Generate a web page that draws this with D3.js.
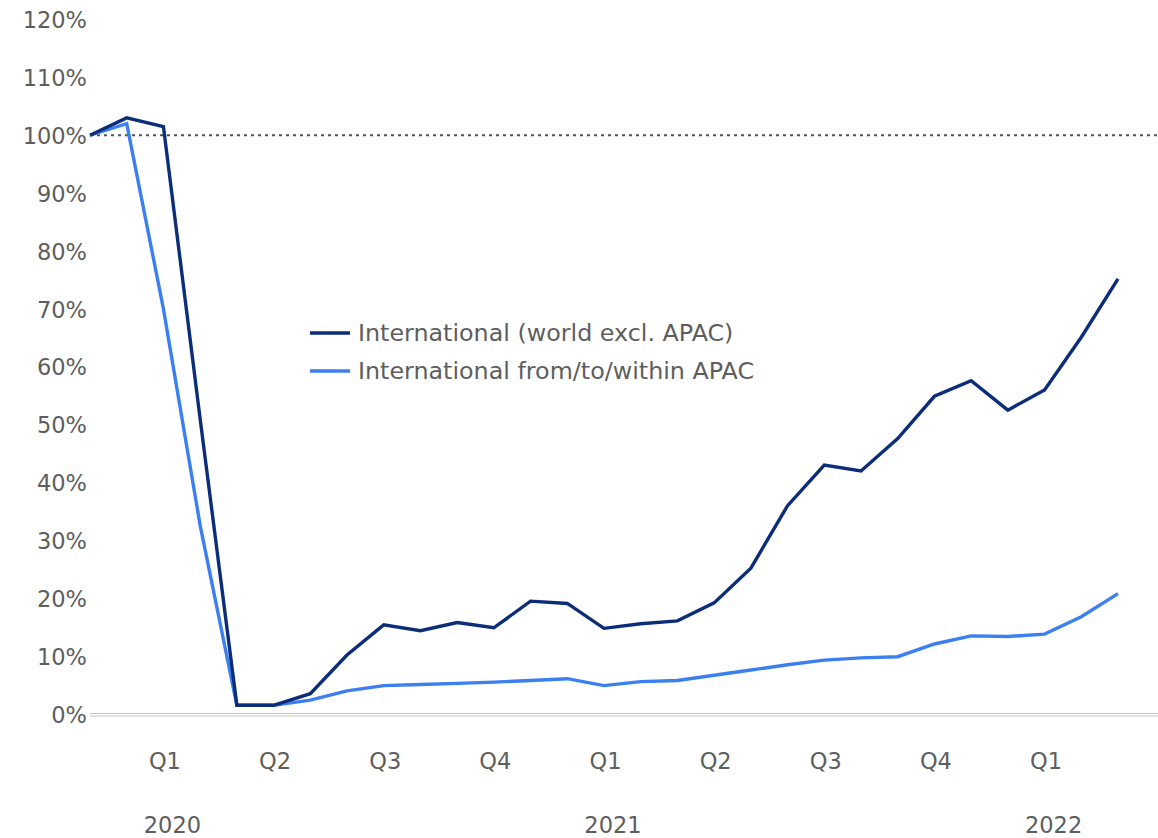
<!DOCTYPE html>
<html>
<head>
<meta charset="utf-8">
<script src="https://cdn.jsdelivr.net/npm/d3@7"></script>
<style>
  html, body { margin: 0; padding: 0; background: #fff; }
  svg { display: block; font-family: "DejaVu Sans", sans-serif; }
</style>
</head>
<body>
<svg id="chart" width="1158" height="838"></svg>
<script>
// Monthly index points (relative to baseline = 100%)
const months = d3.range(29);
const seriesWorld = [100, 103, 101.5, 51, 1.5, 1.5, 3.5, 10.2, 15.4, 14.4, 15.8, 14.9, 19.5, 19.1, 14.8,
  15.6, 16.1, 19.2, 25.2, 36.0, 43.0, 42.0, 47.6, 54.9, 57.6, 52.5, 56.0, 65.1, 75.2];
const seriesApac = [100, 102, 70, 32.6, 1.5, 1.5, 2.4, 4.0, 4.9, 5.1, 5.3, 5.5, 5.8, 6.1, 4.9,
  5.6, 5.8, 6.7, 7.6, 8.5, 9.3, 9.7, 9.9, 12.1, 13.5, 13.4, 13.8, 16.8, 20.8];
const seriesNames = ["International (world excl. APAC)", "International from/to/within APAC"];
const yTicks = [0, 10, 20, 30, 40, 50, 60, 70, 80, 90, 100, 110, 120];
const quarterLabels = ["Q1", "Q2", "Q3", "Q4", "Q1", "Q2", "Q3", "Q4", "Q1"];
const quarterIndex = [2, 5, 8, 11, 14, 17, 20, 23, 26];
const yearLabels = ["2020", "2021", "2022"];
const yearIndex = [2, 14, 26];
const referenceLevel = 100;

const colors = ["#0b2d7a", "#3b7ff0"];
const textColor = "#5e5e5e";
const axisFont = 22.5;

const svg = d3.select("#chart");
const x = d3.scaleLinear().domain([0, 28]).range([90, 1118]);
const y = d3.scaleLinear().domain([0, 120]).range([714, 19.5]);

// Y axis labels
const yAxis = d3.axisLeft(y).tickValues(yTicks).tickFormat(d => d + "%").tickSize(0).tickPadding(0);
const yg = svg.append("g").attr("transform", "translate(87,1)").call(yAxis);
yg.select(".domain").remove();
yg.selectAll("text").attr("font-size", axisFont).attr("fill", textColor)
  .attr("font-family", "DejaVu Sans, sans-serif");

// Baseline (double thin grey)
svg.append("line").attr("x1", 90).attr("x2", 1158).attr("y1", y(0) - 0.5).attr("y2", y(0) - 0.5)
  .attr("stroke", "#c4c4c4").attr("stroke-width", 1);
svg.append("line").attr("x1", 90).attr("x2", 1158).attr("y1", y(0) + 2).attr("y2", y(0) + 2)
  .attr("stroke", "#c4c4c4").attr("stroke-width", 1);

// Reference dotted line at 100%
svg.append("line").attr("x1", 90).attr("x2", 1158).attr("y1", y(referenceLevel)).attr("y2", y(referenceLevel))
  .attr("stroke", "#4d5266").attr("stroke-width", 2).attr("stroke-dasharray", "3,4");

// X quarter labels
const xAxisQ = d3.axisBottom(x).tickValues(quarterIndex)
  .tickFormat((d, i) => quarterLabels[i]).tickSize(0).tickPadding(0);
const xq = svg.append("g").attr("transform", "translate(1,753)").call(xAxisQ);
xq.select(".domain").remove();
xq.selectAll("text").attr("font-size", axisFont).attr("fill", textColor)
  .attr("font-family", "DejaVu Sans, sans-serif");

// Year labels
svg.append("g").selectAll("text").data(yearLabels).join("text")
  .attr("x", (d, i) => x(yearIndex[i]) + 9)
  .attr("y", 833)
  .attr("text-anchor", "middle")
  .attr("font-size", axisFont).attr("fill", textColor)
  .text(d => d);

// Lines
const line = d3.line().x((d, i) => x(months[i])).y(d => y(d));
[seriesApac, seriesWorld].forEach((s, k) => {
  svg.append("path").datum(s).attr("d", line).attr("fill", "none")
    .attr("stroke", colors[1 - k]).attr("stroke-width", 3.4)
    .attr("stroke-linejoin", "miter").attr("stroke-linecap", "butt");
});

// Legend
const legendY = [333, 371];
seriesNames.forEach((name, i) => {
  svg.append("line").attr("x1", 310).attr("x2", 350).attr("y1", legendY[i]).attr("y2", legendY[i])
    .attr("stroke", colors[i]).attr("stroke-width", 3.4);
  svg.append("text").attr("x", 358).attr("y", legendY[i]).attr("dy", "0.35em")
    .attr("font-size", 23.8).attr("fill", textColor).text(name);
});
</script>
</body>
</html>
